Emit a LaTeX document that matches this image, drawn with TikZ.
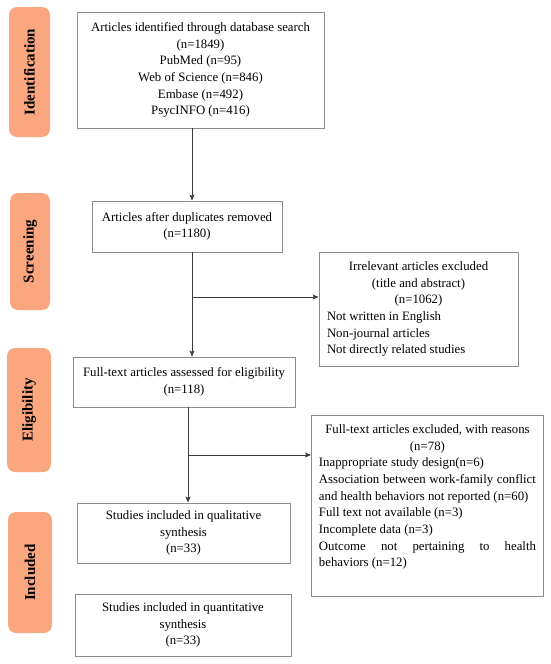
\documentclass[tikz,border=0pt]{standalone}
\usepackage{fontspec}
\setmainfont{Liberation Serif}
\usetikzlibrary{arrows.meta}
\definecolor{stageorange}{RGB}{250,166,126}
\definecolor{boxgray}{RGB}{140,140,140}
\definecolor{linegray}{RGB}{60,60,60}
\begin{document}
\begin{tikzpicture}[x=1pt,y=-1pt,
  font=\fontsize{12.8}{16.7}\selectfont,
  flowbox/.style={draw=boxgray, line width=0.9pt, inner sep=0pt, align=center},
  stagebox/.style={fill=stageorange, draw=none, rounded corners=8pt, rotate=90,
    inner sep=0pt, font=\fontsize{15}{18}\selectfont\bfseries},
  conn/.style={draw=linegray, line width=0.8pt, -{Stealth[length=6pt,width=5pt,inset=1.2pt]}},
  plainline/.style={draw=linegray, line width=0.8pt}]
\useasboundingbox[fill=white] (0,0) rectangle (550,664);

% stage labels
\node[stagebox, minimum width=130pt, minimum height=41pt] (sid) at (29.5,72) {Identification};
\node[stagebox, minimum width=117pt, minimum height=40pt] (sscr) at (30,251.5) {Screening};
\node[stagebox, minimum width=124pt, minimum height=44pt] (selig) at (29,410) {Eligibility};
\node[stagebox, minimum width=121pt, minimum height=44pt] (sinc) at (30,572.5) {Included};

% flow boxes
\node[flowbox, minimum width=247pt, minimum height=116pt] (ident) at (200.5,70)
  {Articles identified through database search\\(n=1849)\\PubMed (n=95)\\Web of Science (n=846)\\Embase (n=492)\\PsycINFO (n=416)};
\node[flowbox, minimum width=190pt, minimum height=51pt] (scr) at (187,226.5)
  {Articles after duplicates removed\\(n=1180)};
\node[flowbox, minimum width=199pt, minimum height=114pt] (exc1) at (418.5,309)
  {\begin{minipage}{183pt}\centering Irrelevant articles excluded\\(title and abstract)\\(n=1062)\par
  \raggedright Not written in English\\Non-journal articles\\Not directly related studies\end{minipage}};
\node[flowbox, minimum width=222pt, minimum height=50pt] (elig) at (184,382)
  {Full-text articles assessed for eligibility\\(n=118)};
\node[flowbox, anchor=north west, inner xsep=7.5pt, inner ysep=9pt] (exc2) at (311,415)
  {\begin{minipage}[t][163pt][t]{217pt}\tolerance=10000
  {\centering Full-text articles excluded, with reasons\\(n=78)\par}
  Inappropriate study design(n=6)\par
  Association between work-family conflict\linebreak and health behaviors not reported (n=60)\par
  Full text not available (n=3)\par
  Incomplete data (n=3)\par
  Outcome not pertaining to health\linebreak behaviors (n=12)\par
  \end{minipage}};
\node[flowbox, minimum width=213pt, minimum height=60pt] (qual) at (183.5,533)
  {Studies included in qualitative\\synthesis\\(n=33)};
\node[flowbox, minimum width=216pt, minimum height=62pt] (quant) at (183,625)
  {Studies included in quantitative\\synthesis\\(n=33)};

% connectors
\coordinate (a1) at ([xshift=5pt]scr.north);
\draw[conn] (a1 |- ident.south) -- (a1);
\coordinate (a2) at ([xshift=5pt]scr.south);
\draw[conn] (a2) -- (a2 |- elig.north);
\coordinate (b1) at (192,297);
\draw[conn] (b1) -- (b1 -| exc1.west);
\coordinate (a3) at ([xshift=4pt]elig.south);
\draw[conn] (a3) -- (a3 |- qual.north);
\coordinate (b2) at (188,455);
\draw[conn] (b2) -- (b2 -| exc2.west);
\end{tikzpicture}
\end{document}
